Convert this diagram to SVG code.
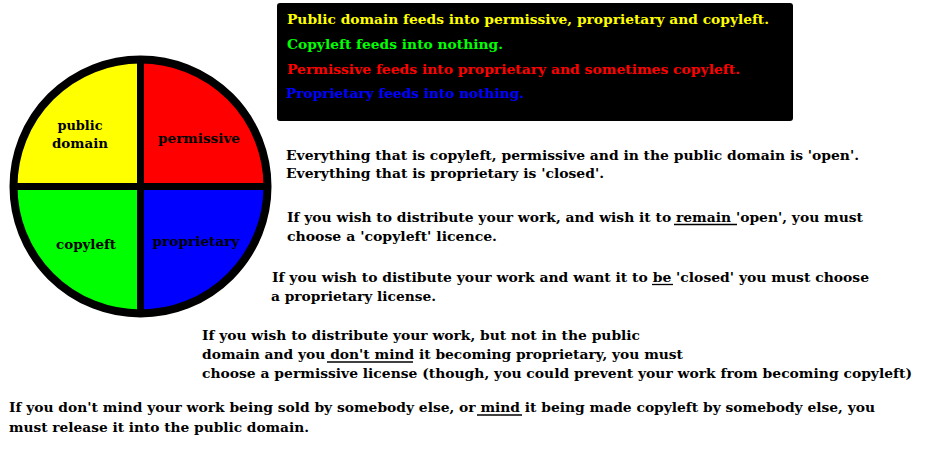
<svg xmlns="http://www.w3.org/2000/svg" width="935" height="449" viewBox="0 0 935 449">
<style>
  text { font-family: "DejaVu Serif", "Liberation Serif", serif; font-weight: bold; font-size: 12px; fill: #000; }
  .lbl { text-anchor: middle; font-size: 12px; }
  .ul { stroke: #000; stroke-width: 1.3; }
</style>
<rect width="935" height="449" fill="#fff"/>
<g id="circle">
  <g id="public-domain">
    <path d="M140.5,186.5 L140.5,59.5 A127,127 0 0 0 13.5,186.5 Z" fill="#ffff00"/>
    <text class="lbl" x="80" y="130" textLength="45" lengthAdjust="spacingAndGlyphs">public</text>
    <text class="lbl" x="80" y="148" textLength="56" lengthAdjust="spacingAndGlyphs">domain</text>
  </g>
  <g id="permissive">
    <path d="M140.5,186.5 L140.5,59.5 A127,127 0 0 1 267.5,186.5 Z" fill="#ff0000"/>
    <text class="lbl" x="199" y="143" textLength="82" lengthAdjust="spacingAndGlyphs">permissive</text>
  </g>
  <g id="copyleft">
    <path d="M140.5,186.5 L13.5,186.5 A127,127 0 0 0 140.5,313.5 Z" fill="#00ff00"/>
    <text class="lbl" x="86" y="249" textLength="60" lengthAdjust="spacingAndGlyphs">copyleft</text>
  </g>
  <g id="proprietary">
    <path d="M140.5,186.5 L140.5,313.5 A127,127 0 0 0 267.5,186.5 Z" fill="#0000ff"/>
    <text class="lbl" x="196" y="246" textLength="87" lengthAdjust="spacingAndGlyphs">proprietary</text>
  </g>
  <circle cx="140.5" cy="186.5" r="127" fill="none" stroke="#000" stroke-width="8"/>
  <rect x="137" y="57" width="7" height="259" fill="#000"/>
  <rect x="11" y="183" width="259" height="7" fill="#000"/>
</g>
<g id="legend">
  <rect x="277" y="3" width="516" height="118" rx="3" fill="#000"/>
  <text x="287" y="24" fill="#ffff00" style="fill:#ffff00" textLength="482" lengthAdjust="spacingAndGlyphs">Public domain feeds into permissive, proprietary and copyleft.</text>
  <text x="287" y="49" style="fill:#00ff00" textLength="216" lengthAdjust="spacingAndGlyphs">Copyleft feeds into nothing.</text>
  <text x="287" y="74" style="fill:#ff0000" textLength="453" lengthAdjust="spacingAndGlyphs">Permissive feeds into proprietary and sometimes copyleft.</text>
  <text x="286" y="98" style="fill:#0000ff" textLength="238" lengthAdjust="spacingAndGlyphs">Proprietary feeds into nothing.</text>
</g>
<g id="notes">
  <text x="286" y="160" textLength="573" lengthAdjust="spacingAndGlyphs">Everything that is copyleft, permissive and in the public domain is 'open'.</text>
  <text x="286" y="178" textLength="318" lengthAdjust="spacingAndGlyphs">Everything that is proprietary is 'closed'.</text>

  <text x="287" y="222" textLength="576" lengthAdjust="spacingAndGlyphs">If you wish to distribute your work, and wish it to remain 'open', you must</text>
  <line class="ul" x1="674" y1="224.5" x2="737" y2="224.5"/>
  <text x="287" y="241" textLength="210" lengthAdjust="spacingAndGlyphs">choose a 'copyleft' licence.</text>

  <text x="272" y="282" textLength="597" lengthAdjust="spacingAndGlyphs">If you wish to distibute your work and want it to be 'closed' you must choose</text>
  <line class="ul" x1="652" y1="284.5" x2="673" y2="284.5"/>
  <text x="271" y="301" textLength="165" lengthAdjust="spacingAndGlyphs">a proprietary license.</text>

  <text x="202" y="340" textLength="438" lengthAdjust="spacingAndGlyphs">If you wish to distribute your work, but not in the public</text>
  <text x="202" y="359" textLength="481" lengthAdjust="spacingAndGlyphs">domain and you don't mind it becoming proprietary, you must</text>
  <line class="ul" x1="327" y1="362" x2="413" y2="362"/>
  <text x="202" y="378" textLength="710" lengthAdjust="spacingAndGlyphs">choose a permissive license (though, you could prevent your work from becoming copyleft)</text>

  <text x="9" y="412" textLength="866" lengthAdjust="spacingAndGlyphs">If you don't mind your work being sold by somebody else, or mind it being made copyleft by somebody else, you</text>
  <line class="ul" x1="477" y1="415" x2="522" y2="415"/>
  <text x="9" y="432" textLength="300" lengthAdjust="spacingAndGlyphs">must release it into the public domain.</text>
</g>
</svg>
